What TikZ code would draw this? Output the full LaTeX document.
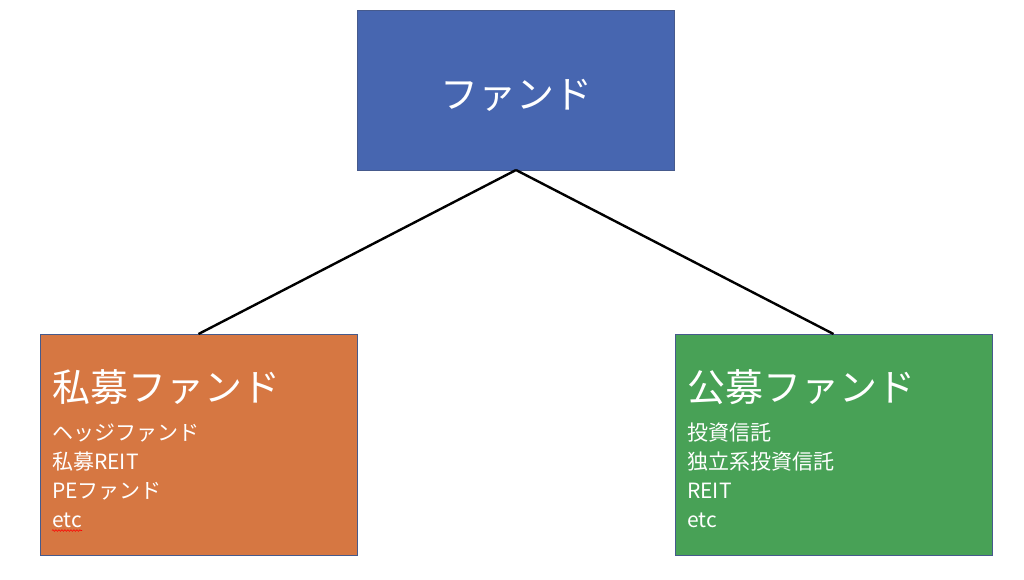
\documentclass[tikz,border=0pt]{standalone}
\usepackage{fontspec}
\newfontfamily\jpfont{Noto Sans CJK JP}
\usetikzlibrary{decorations.pathmorphing}
\definecolor{fundblue}{RGB}{71,102,176}
\definecolor{privorange}{RGB}{214,119,66}
\definecolor{pubgreen}{RGB}{72,161,86}
\definecolor{boxedge}{RGB}{70,90,140}

\tikzset{
  box/.style={draw=boxedge,line width=0.8pt,minimum width=317pt,inner sep=0pt,outer sep=0pt},
  head/.style={text=white,inner sep=0pt,font=\jpfont\fontsize{38}{40}\selectfont},
  item/.style={text=white,inner sep=0pt,font=\jpfont\fontsize{21}{24}\selectfont}
}

\begin{document}
\begin{tikzpicture}[x=1pt,y=-1pt]
\useasboundingbox (0,0) rectangle (1024,579);

% boxes
\node[box,fill=fundblue,minimum height=160pt] (fund) at (516,90) {};
\node[box,fill=privorange,minimum height=221pt] (priv) at (198.5,444.5) {};
\node[box,fill=pubgreen,minimum height=221pt] (pub) at (833.5,444.5) {};

\draw[line width=2.4pt] (fund.south) -- (priv.north);
\draw[line width=2.4pt] (fund.south) -- (pub.north);

% titles
\node[head,anchor=base] (fundtxt) at (516,108) {ファンド};
\node[head,anchor=base west] (privtxt) at (52,401) {私募ファンド};
\node[head,anchor=base west] (pubtxt) at (687,401) {公募ファンド};

% lists
\foreach \t [count=\i] in {ヘッジファンド,私募REIT,PEファンド,etc}
  \node[item,anchor=base west] (l\i) at (52,{440+29*(\i-1)}) {\t};
\foreach \t [count=\i] in {投資信託,独立系投資信託,REIT,etc}
  \node[item,anchor=base west] (r\i) at (687,{440+29*(\i-1)}) {\t};

\draw[red,line width=0.6pt,decorate,decoration={snake,amplitude=0.8pt,segment length=3pt}]
  ([yshift=-3.5pt]l4.base west) -- ([yshift=-3.5pt]l4.base east);

\end{tikzpicture}
\end{document}
